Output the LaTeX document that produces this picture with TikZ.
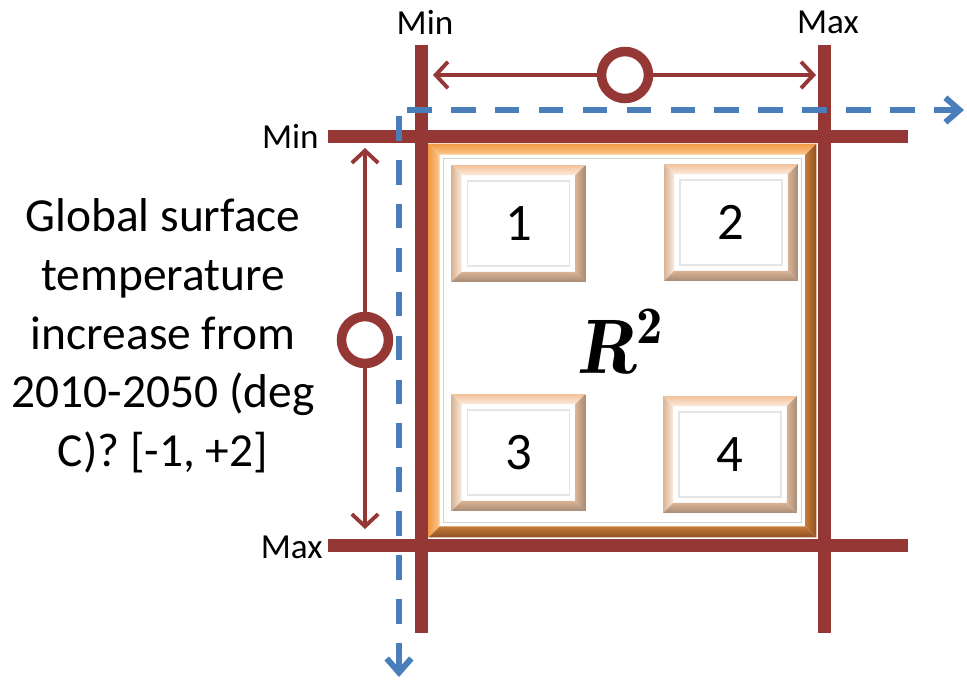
\documentclass[tikz,border=0pt]{standalone}
\usepackage{fontspec}
\setmainfont{Carlito}
\usepackage{tikz}
\usetikzlibrary{arrows.meta,calc}
\definecolor{barred}{HTML}{953735}
\definecolor{dashblue}{HTML}{4A7EBB}
\definecolor{frmA}{HTML}{F39A45}
\definecolor{frmB}{HTML}{FBC890}
\definecolor{frmC}{HTML}{8E5222}
\definecolor{frmD}{HTML}{C77A38}
\definecolor{tileA}{HTML}{F2C39B}
\definecolor{tileB}{HTML}{FCEBDD}
\definecolor{tileC}{HTML}{A88C76}
\definecolor{tileD}{HTML}{D9B495}
% bevelled border round a node: node, width, top, left, right, bottom
\newcommand{\bevel}[6]{%
  \shade[#3] (#1.north west) -- (#1.north east) -- ([shift={(-#2,#2)}]#1.north east) -- ([shift={(#2,#2)}]#1.north west) -- cycle;
  \shade[#4] (#1.north west) -- ([shift={(#2,#2)}]#1.north west) -- ([shift={(#2,-#2)}]#1.south west) -- (#1.south west) -- cycle;
  \shade[#5] (#1.north east) -- (#1.south east) -- ([shift={(-#2,-#2)}]#1.south east) -- ([shift={(-#2,#2)}]#1.north east) -- cycle;
  \shade[#6] (#1.south west) -- (#1.south east) -- ([shift={(-#2,-#2)}]#1.south east) -- ([shift={(#2,-#2)}]#1.south west) -- cycle;
}
\tikzset{
  framebox/.style={fill=white, minimum width=7.74cm, minimum height=7.86cm, inner sep=0pt},
  tilebox/.style={fill=white, minimum width=2.66cm, minimum height=2.32cm, inner sep=0pt,
    font=\fontsize{30}{30}\selectfont},
  limitlabel/.style={font=\fontsize{20}{20}\selectfont, inner sep=0pt},
  barline/.style={barred, line width=7.4pt},
  rangeline/.style={barred, line width=2.2pt, {Straight Barb[length=7pt,width=15pt]}-{Straight Barb[length=7pt,width=15pt]}},
  knob/.style={circle, draw=barred, line width=5.4pt, fill=white, minimum size=0.94cm, inner sep=0pt},
  axisline/.style={dashblue, line width=3.4pt, dash pattern=on 14pt off 11pt, -{Straight Barb[length=8pt,width=14pt]}},
}

\begin{document}
\begin{tikzpicture}[x=0.02cm, y=-0.02cm]
  \useasboundingbox (0,0) rectangle (967,681);

  % outer frame and the four tiles
  \node[framebox] (frame) at (622.5,340.5) {};
  \bevel{frame}{11}{top color=frmA, bottom color=frmB}{left color=frmA, right color=frmB}%
        {left color=frmD, right color=frmC}{top color=frmD, bottom color=frmC}
  \draw[black!18, line width=0.8pt] ([shift={(15,15)}]frame.north west) rectangle ([shift={(-15,-15)}]frame.south east);

  \node[tilebox] (box1) at (518.5,223.5) {1};
  \node[tilebox] (box2) at (731,222.5) {2};
  \node[tilebox] (box3) at (518.5,452.5) {3};
  \node[tilebox] (box4) at (730,454.5) {4};
  \foreach \b in {box1,box2,box3,box4} {
    \bevel{\b}{10}{top color=tileA, bottom color=tileB}{left color=tileD, right color=tileB}%
          {left color=tileD, right color=tileC}{top color=tileD, bottom color=tileC}
    \draw[black!10, line width=0.8pt] ([shift={(16,16)}]\b.north west) rectangle ([shift={(-16,-16)}]\b.south east);
  }
  \node (rsq) at (620,342) {\fontsize{44}{44}\fontfamily{lmr}\selectfont\bfseries\itshape R\raisebox{17pt}{\fontsize{30}{30}\selectfont\upshape 2}};

  % limit bars
  \coordinate (minx-top) at (421,45);  \coordinate (minx-bot) at (421,633);
  \coordinate (maxx-top) at (824,45);  \coordinate (maxx-bot) at (824,633);
  \coordinate (miny-lft) at (328,136); \coordinate (miny-rgt) at (908,136);
  \coordinate (maxy-lft) at (328,545); \coordinate (maxy-rgt) at (908,545);
  \draw[barline] (minx-top) -- (minx-bot);
  \draw[barline] (maxx-top) -- (maxx-bot);
  \draw[barline] (miny-lft) -- (miny-rgt);
  \draw[barline] (maxy-lft) -- (maxy-rgt);

  \node[limitlabel] (minT) at (425,22) {Min};
  \node[limitlabel] (maxT) at (828,22) {Max};
  \node[limitlabel, anchor=east] (minL) at (319,136) {Min};
  \node[limitlabel, anchor=east] (maxL) at (323,547) {Max};

  % ranges with their sliders
  \coordinate (hr-a) at (433,75);  \coordinate (hr-b) at (816,75);
  \coordinate (vr-a) at (365,148); \coordinate (vr-b) at (365,529);
  \draw[rangeline] (hr-a) -- (hr-b);
  \draw[rangeline] (vr-a) -- (vr-b);
  \node[knob] (hknob) at (625,75) {};
  \node[knob] (vknob) at (365,340) {};

  % axes
  \coordinate (org) at (399,110);
  \coordinate (xend) at (964,110);
  \coordinate (yend) at (399,677);
  \draw[axisline] ([xshift=0.16cm]org) -- (xend);
  \draw[axisline] ([yshift=-0.12cm]org) -- (yend);

  \node[align=center, font=\fontsize{27}{33.4}\selectfont] (question) at (163,336)
    {Global surface\\temperature\\increase from\\2010-2050 (deg\\C)? [-1, +2]};
\end{tikzpicture}
\end{document}
